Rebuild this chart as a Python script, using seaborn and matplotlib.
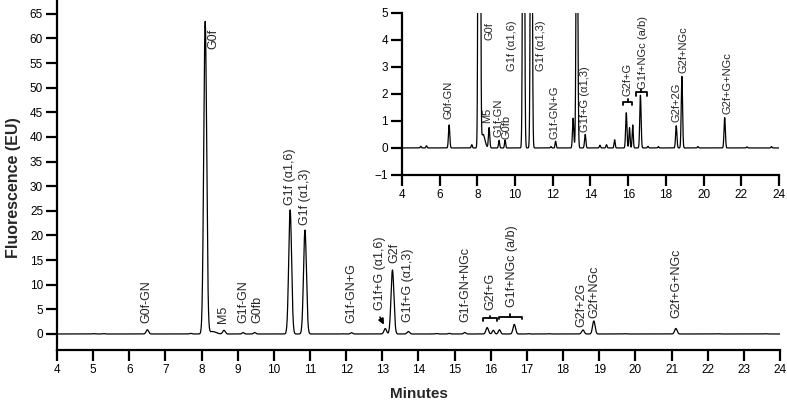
import matplotlib
matplotlib.use("Agg")
import matplotlib.pyplot as plt
import numpy as np
import pandas as pd
import seaborn as sns

# PEAK TABLE (retention time in min, height in EU, width sigma in min)
peak_times = [5.0, 5.3, 6.5, 7.7, 8.1, 8.3, 8.62, 9.15, 9.47, 10.45, 10.86, 11.9, 12.15,
              13.08, 13.28, 13.72, 14.5, 14.85, 15.28, 15.9, 16.07, 16.24, 16.65, 17.05,
              17.6, 18.55, 18.85, 19.7, 21.12, 22.3, 23.6]
peak_heights = [0.06, 0.08, 0.85, 0.12, 63.4, 0.5, 0.75, 0.28, 0.3, 25.2, 21.1, 0.05, 0.25,
                1.1, 13.0, 0.5, 0.1, 0.12, 0.3, 1.3, 0.75, 0.85, 1.95, 0.06,
                0.05, 0.82, 2.65, 0.05, 1.12, 0.04, 0.05]
peak_sigmas = [0.03, 0.03, 0.035, 0.03, 0.04, 0.1, 0.035, 0.03, 0.03, 0.04, 0.04, 0.03, 0.03,
               0.035, 0.04, 0.035, 0.03, 0.03, 0.03, 0.035, 0.03, 0.03, 0.035, 0.03,
               0.03, 0.035, 0.035, 0.03, 0.035, 0.03, 0.03]

# PEAK LABELS FOR THE MAIN PLOT (text, x, y of the text base)
main_labels = ["G0f-GN", "M5", "G1f-GN", "G0fb", "G1f (\u03b11,6)", "G1f (\u03b11,3)", "G1f-GN+G",
               "G1f+G (\u03b11,6)", "G2f", "G1f+G (\u03b11,3)", "G1f-GN+NGc", "G2f+G",
               "G1f+NGc (a/b)", "G2f+2G", "G2f+NGc", "G2f+G+NGc"]
main_label_x = [6.48, 8.6, 9.15, 9.55, 10.45, 10.86, 12.15, 12.93, 13.32, 13.72, 15.29, 16.0,
                16.58, 18.5, 18.86, 21.12]
main_label_y = [2.2, 2.2, 2.2, 2.2, 26.2, 22.1, 2.2, 4.9, 14.4, 2.4, 2.4, 4.9, 5.5, 1.4, 3.2, 3.2]

# PEAK LABELS FOR THE ZOOMED INSET
inset_labels = ["G0f-GN", "G0f", "M5", "G1f-GN", "G0fb", "G1f (\u03b11,6)", "G1f (\u03b11,3)",
                "G1f-GN+G", "G1f+G (\u03b11,3)", "G2f+G", "G1f+NGc (a/b)", "G2f+2G", "G2f+NGc",
                "G2f+G+NGc"]
inset_label_x = [6.46, 8.63, 8.5, 9.1, 9.55, 9.82, 11.4, 12.1, 13.7, 15.95, 16.8, 18.55, 18.95, 21.27]
inset_label_y = [1.07, 4.0, 0.93, 0.4, 0.33, 2.83, 2.83, 0.33, 0.6, 1.92, 2.17, 0.97, 2.78, 1.25]

# BRACKETS GROUPING PEAKS (start, end, level)
main_brackets = [(15.78, 16.17, 3.2), (16.22, 16.85, 3.5)]
inset_brackets = [(15.75, 16.2, 1.7), (16.4, 17.0, 2.05)]

# BUILDING THE TRACE FROM THE PEAK TABLE
minutes = np.arange(4, 24.0001, 0.004)
signal = np.zeros_like(minutes)
for t, h, s in zip(peak_times, peak_heights, peak_sigmas):
    signal += h * np.exp(-0.5 * ((minutes - t) / s) ** 2)
trace = pd.DataFrame({"Minutes": minutes, "Fluorescence": signal})

sns.set_style("ticks")
plt.rcParams['font.family'] = ['Liberation Sans', 'DejaVu Sans']

fig = plt.figure(figsize=(7.87, 4.01), dpi=100)
ax = fig.add_axes([0.0724, 0.1272, 0.9187, 0.8728])
inset = fig.add_axes([0.5108, 0.5636, 0.479, 0.4048])


def style_axis(a, ticksize):
    for side in ["top", "right"]:
        a.spines[side].set_visible(False)
    for side in ["left", "bottom"]:
        a.spines[side].set_linewidth(1.6)
        a.spines[side].set_color("black")
    a.tick_params(direction="out", length=8, width=1.6, labelsize=ticksize, colors="black", pad=2)


def draw_brackets(a, brackets, d):
    for x0, x1, lvl in brackets:
        xm = (x0 + x1) / 2
        a.plot([x0, x0, x1, x1], [lvl - d, lvl, lvl, lvl - d], color="black", lw=1.3)
        a.plot([xm, xm], [lvl, lvl + d], color="black", lw=1.3)


#MAIN CHROMATOGRAM
sns.lineplot(data=trace, x="Minutes", y="Fluorescence", ax=ax, color="black", lw=0.9)
ax.set_xlim(4, 24)
ax.set_ylim(-3.25, 67.8)
ax.set_xticks(np.arange(4, 25, 1))
ax.set_yticks(np.arange(0, 66, 5))
style_axis(ax, 8.5)
ax.set_xlabel("Minutes", fontsize=11, fontweight="bold")
ax.set_ylabel("Fluorescence (EU)", fontsize=11.5, fontweight="bold")
ax.yaxis.set_label_coords(-0.05, 0.465)
ax.xaxis.set_label_coords(0.5, -0.105)

for lab, x, y in zip(main_labels, main_label_x, main_label_y):
    ax.text(x, y, lab, rotation=90, ha="center", va="bottom", fontsize=9)
ax.text(8.33, 62, "G0f", rotation=90, ha="center", va="top", fontsize=9)
draw_brackets(ax, main_brackets, 0.55)
ax.annotate("", xy=(13.08, 1.4), xytext=(12.9, 3.9),
            arrowprops=dict(arrowstyle="-|>", color="black", lw=1.2, mutation_scale=8))

#ZOOMED INSET
inset.set_facecolor("white")
sns.lineplot(data=trace, x="Minutes", y="Fluorescence", ax=inset, color="black", lw=0.9)
inset.set_xlim(4, 24)
inset.set_ylim(-1, 5)
inset.set_xticks(np.arange(4, 25, 2))
inset.set_yticks(np.arange(-1, 6, 1))
inset.set_yticklabels(["\u22121", "0", "1", "2", "3", "4", "5"])
style_axis(inset, 8.5)
inset.set_xlabel("")
inset.set_ylabel("")
for lab, x, y in zip(inset_labels, inset_label_x, inset_label_y):
    inset.text(x, y, lab, rotation=90, ha="center", va="bottom", fontsize=8)
draw_brackets(inset, inset_brackets, 0.12)

fig.savefig("out.png", dpi=100)
